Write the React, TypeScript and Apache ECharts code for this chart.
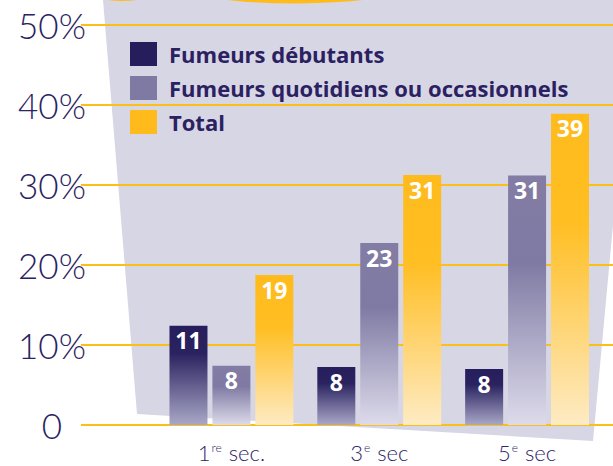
import React, { useEffect, useRef } from 'react';
import * as echarts from 'echarts';

// ---- data ----
const categories = ['1re sec.', '3e sec', '5e sec'];
const seriesNames = ['Fumeurs débutants', 'Fumeurs quotidiens ou occasionnels', 'Total'];
// bar heights as drawn (%)
const debutants = [12.4, 7.25, 7.0];
const quotidiens = [7.4, 22.75, 31.2];
const total = [18.75, 31.25, 38.9];
// printed values on bars
const debutantsLabels = [11, 8, 8];
const quotidiensLabels = [8, 23, 31];
const totalLabels = [19, 31, 39];
const yTicks = [0, 10, 20, 30, 40, 50];
const yTickLabels = ['0', '10%', '20%', '30%', '40%', '50%'];

const NAVY = '#2a2262';
const GRID_ORANGE = '#fbbf17';

function grad(stops: [number, string][]) {
  return new echarts.graphic.LinearGradient(0, 0, 0, 1, stops.map(([offset, color]) => ({ offset, color })));
}

const seriesColors = [
  grad([[0, '#261e5c'], [0.28, '#2a2360'], [1, '#aaa8c8']]),
  grad([[0, '#837da6'], [0.35, '#7f7aa3'], [1, '#dddbeb']]),
  grad([[0, '#ffbb1c'], [0.35, '#ffbe22'], [1, '#feebc4']]),
];
const legendColors = ['#261e5c', '#7f7aa3', '#ffbb1c'];
const seriesData = [debutants, quotidiens, total];
const seriesLabels = [debutantsLabels, quotidiensLabels, totalLabels];

export default function App() {
  const ref = useRef<HTMLDivElement>(null);
  useEffect(() => {
    document.body.style.margin = '0';
    const chart = echarts.init(ref.current!, null, { renderer: 'svg' });
    const option: any = {
      animation: false,
      backgroundColor: '#ffffff',
      graphic: [
        {
          type: 'polygon',
          z: -10,
          silent: true,
          shape: { points: [[103, 0], [137, 414], [593, 441], [613, 225], [613, 0]] },
          style: { fill: '#d7d6e5' },
        },
        {
          type: 'circle',
          z: -9,
          silent: true,
          shape: { cx: 295, cy: -656.5, r: 660 },
          style: { fill: '#ffbb1c' },
        },
        {
          type: 'circle',
          z: -9,
          silent: true,
          shape: { cx: 122, cy: -111, r: 112 },
          style: { fill: '#ffbb1c' },
        },
      ],
      legend: {
        orient: 'vertical',
        left: 130,
        top: 42,
        padding: 0,
        itemWidth: 27,
        itemHeight: 24,
        itemGap: 10,
        icon: 'rect',
        data: seriesNames.map((name, i) => ({ name, itemStyle: { color: legendColors[i] } })),
        textStyle: {
          fontFamily: 'Open Sans',
          fontWeight: 700,
          fontSize: 22,
          color: '#2b2161',
          padding: [0, 0, 0, 7],
        },
      },
      grid: [
        { left: 81, right: 0, top: 25, bottom: 41 },
        { left: 157.5, right: 12, top: 25, bottom: 41 },
      ],
      xAxis: [
        { type: 'value', gridIndex: 0, show: false, min: 0, max: 1 },
        {
          type: 'category',
          gridIndex: 1,
          data: categories,
          axisLine: { show: false },
          axisTick: { show: false },
          axisLabel: {
            margin: 16,
            formatter: (v: string) => {
              const m = v.match(/^(\d+)(\S+) (.*)$/);
              if (!m) return v;
              return `{n|${m[1]}}{s|${m[2]}}{n| ${m[3]}}`;
            },
            rich: {
              n: { fontSize: 22, fontFamily: 'Lato', fontWeight: 300, color: '#2e2568' },
              s: { fontSize: 12, fontFamily: 'Lato', fontWeight: 300, color: '#2e2568', verticalAlign: 'top', padding: [0, 1, 0, 1] },
            },
          },
        },
      ],
      yAxis: [
        {
          type: 'value',
          gridIndex: 0,
          min: yTicks[0],
          max: yTicks[yTicks.length - 1],
          interval: 10,
          axisLine: { show: false },
          axisTick: { show: false },
          splitLine: { lineStyle: { color: GRID_ORANGE, width: 2 } },
          axisLabel: {
            margin: 29,
            align: 'center',
            fontSize: 35,
            fontFamily: 'Lato',
            fontWeight: 300,
            color: NAVY,
            formatter: (v: number) => yTickLabels[yTicks.indexOf(v)] ?? String(v),
          },
        },
        {
          type: 'value',
          gridIndex: 1,
          min: yTicks[0],
          max: yTicks[yTicks.length - 1],
          interval: 10,
          show: false,
          splitLine: { show: false },
        },
      ],
      series: seriesNames.map((name, i) => ({
        name,
        type: 'bar',
        xAxisIndex: 1,
        yAxisIndex: 1,
        barWidth: 38,
        barGap: '13%',
        data: seriesData[i],
        itemStyle: { color: seriesColors[i] },
        label: {
          show: true,
          position: 'insideTop',
          distance: 3,
          color: '#ffffff',
          fontFamily: 'Open Sans',
          fontWeight: 700,
          fontSize: 23,
          formatter: (p: any) => String(seriesLabels[i][p.dataIndex]),
        },
      })),
    };
    chart.setOption(option);
    return () => chart.dispose();
  }, []);
  return <div ref={ref} style={{ width: 613, height: 466 }} />;
}
